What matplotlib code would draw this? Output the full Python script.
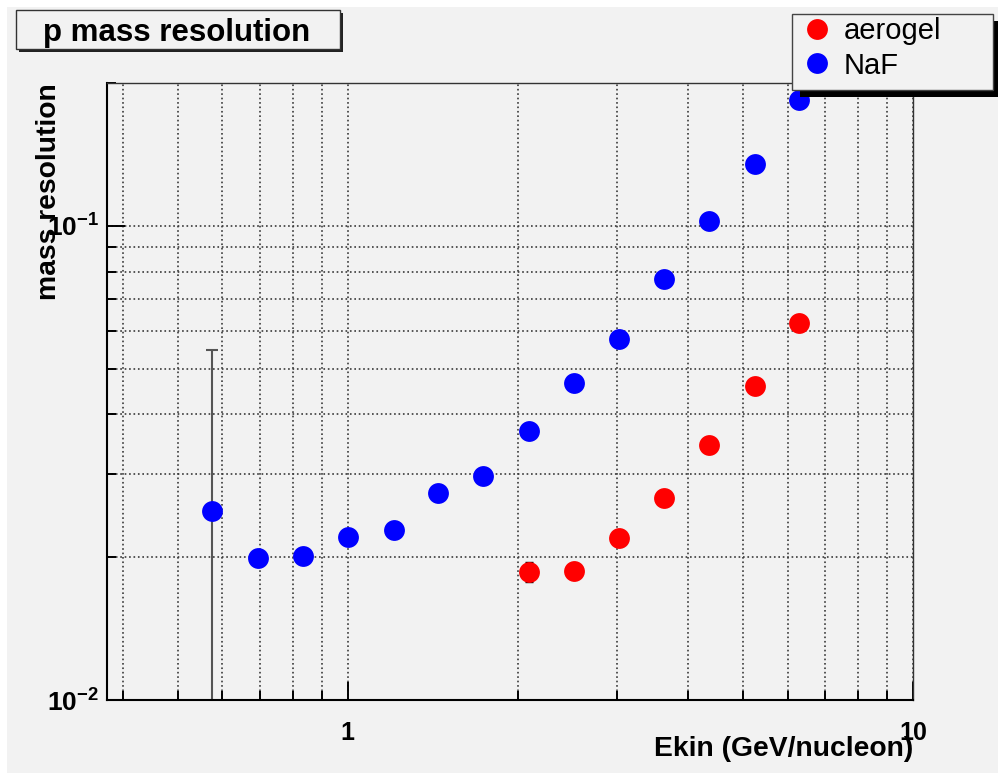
import matplotlib
matplotlib.use("Agg")
import matplotlib.pyplot as plt
from matplotlib.patches import Rectangle
from matplotlib.lines import Line2D
from matplotlib.ticker import LogLocator, NullFormatter

plt.rcParams['font.family'] = ['Liberation Sans', 'DejaVu Sans']
plt.rcParams['mathtext.fontset'] = 'custom'
plt.rcParams['mathtext.rm'] = 'Liberation Sans'
plt.rcParams['mathtext.bf'] = 'Liberation Sans:bold'

# NaF radiator
naf_ekin = [0.576, 0.693, 0.833, 1.0, 1.206, 1.443, 1.734, 2.091, 2.512, 3.018, 3.625, 4.355, 5.253, 6.284]
naf_res = [0.0250, 0.0199, 0.0201, 0.0221, 0.0228, 0.0273, 0.0297, 0.0369, 0.0466, 0.0578, 0.0773, 0.1024, 0.135, 0.184]
naf_err = [0.0297, 0, 0, 0, 0, 0, 0, 0, 0, 0, 0, 0, 0, 0]

# aerogel radiator
aero_ekin = [2.091, 2.512, 3.018, 3.625, 4.355, 5.253, 6.284]
aero_res = [0.0186, 0.0187, 0.0220, 0.0267, 0.0345, 0.0460, 0.0624]
aero_err = [0.0009, 0, 0, 0, 0, 0, 0]

x_ticks = [1, 10]
x_ticklabels = ['1', '10']
y_ticks = [0.01, 0.1]
y_ticklabels = [r'$\mathbf{10^{-2}}$', r'$\mathbf{10^{-1}}$']

W, H = 998, 773
BG = '#f2f2f2'


def fx(px):
    return px / W


def fy(py):
    return 1 - py / H


fig = plt.figure(figsize=(W / 100, H / 100), dpi=100)
fig.patch.set_facecolor('white')
fig.patches.append(Rectangle((fx(7), 0), 1, fy(7), transform=fig.transFigure,
                             facecolor=BG, edgecolor='none', zorder=-10))

ax = fig.add_axes([fx(107), fy(700), fx(913) - fx(107), fy(83) - fy(700)])
ax.set_facecolor('none')
ax.set_xscale('log')
ax.set_yscale('log')

ax.errorbar(naf_ekin, naf_res, yerr=naf_err, fmt='none', ecolor='#555555',
            elinewidth=1.5, capsize=4, capthick=1.5, zorder=2)
ax.errorbar(aero_ekin, aero_res, yerr=aero_err, fmt='none', ecolor='black',
            elinewidth=1.0, capsize=3, capthick=1.0, zorder=2)
ax.plot(aero_ekin, aero_res, 'o', color='#ff0000', markersize=15, markeredgewidth=0, zorder=3)
ax.plot(naf_ekin, naf_res, 'o', color='#0000ff', markersize=15, markeredgewidth=0, zorder=3)

ax.set_xlim(0.375, 10)
ax.set_ylim(0.01, 0.2)

ax.set_xticks(x_ticks, labels=x_ticklabels)
ax.set_yticks(y_ticks, labels=y_ticklabels)
ax.xaxis.set_minor_locator(LogLocator(base=10, subs=range(2, 10)))
ax.yaxis.set_minor_locator(LogLocator(base=10, subs=range(2, 10)))
ax.xaxis.set_minor_formatter(NullFormatter())
ax.yaxis.set_minor_formatter(NullFormatter())
for lab in ax.get_xticklabels():
    lab.set_fontweight('bold')

ax.tick_params(which='both', direction='in', top=False, right=False, width=1.4, color='black')
ax.tick_params(which='major', length=13)
ax.tick_params(which='minor', length=6.5)
ax.tick_params(axis='x', which='major', labelsize=18, pad=15)
ax.tick_params(axis='y', which='major', labelsize=19, pad=6)

ax.grid(True, which='both', linestyle=':', color='#3a3a3a', linewidth=1.2)
ax.set_axisbelow(True)

for side in ['left', 'bottom']:
    ax.spines[side].set_linewidth(1.5)
    ax.spines[side].set_color('black')
for side in ['top', 'right']:
    ax.spines[side].set_linewidth(1.0)
    ax.spines[side].set_color('#333333')

ax.set_xlabel('Ekin (GeV/nucleon)', fontsize=20.3, fontweight='bold', ha='right')
ax.xaxis.set_label_coords(1.0, -0.058)
ax.set_ylabel('mass resolution', fontsize=20.3, fontweight='bold', ha='right')
ax.yaxis.set_label_coords(-0.056, 1.0)

# title box with shadow
fig.patches.append(Rectangle((fx(19), fy(52)), fx(343) - fx(19), fy(13) - fy(52),
                             transform=fig.transFigure, facecolor='#222222',
                             edgecolor='none', zorder=1.9))
fig.patches.append(Rectangle((fx(16), fy(49)), fx(340) - fx(16), fy(10) - fy(49),
                             transform=fig.transFigure, facecolor=BG,
                             edgecolor='#333333', linewidth=1.0, zorder=2))
fig.text(fx(177), fy(41), 'p mass resolution', fontsize=22.5, fontweight='bold',
         ha='center', va='baseline', zorder=3)

# legend box with shadow
fig.patches.append(Rectangle((fx(800), fy(97)), fx(1000) - fx(800), fy(21) - fy(97),
                             transform=fig.transFigure, facecolor='black',
                             edgecolor='none', zorder=3.9))
fig.patches.append(Rectangle((fx(792), fy(90)), fx(993) - fx(792), fy(14) - fy(90),
                             transform=fig.transFigure, facecolor=BG,
                             edgecolor='#444444', linewidth=1.0, zorder=4))
handles = [Line2D([], [], marker='o', linestyle='none', color='#ff0000', markersize=15, markeredgewidth=0),
           Line2D([], [], marker='o', linestyle='none', color='#0000ff', markersize=15, markeredgewidth=0)]
fig.legend(handles, ['aerogel', 'NaF'], loc='upper left',
           bbox_to_anchor=(fx(802.5), fy(16.8)), bbox_transform=fig.transFigure,
           frameon=False, fontsize=21, handlelength=1.0, handletextpad=0.4,
           labelspacing=0.23, borderpad=0, borderaxespad=0)

fig.savefig('out.png', dpi=100)
